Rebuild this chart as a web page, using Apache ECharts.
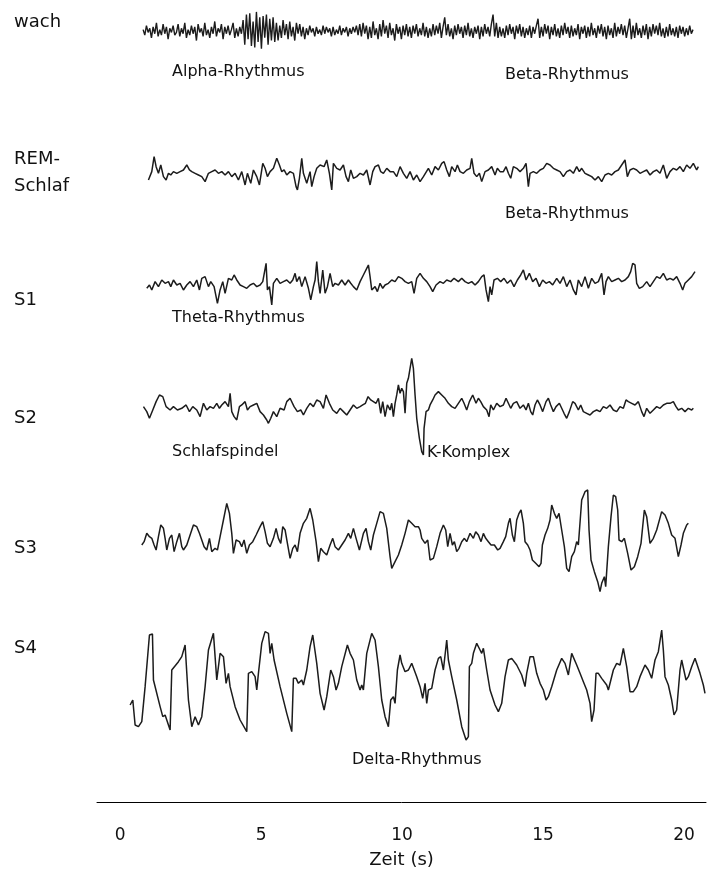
<!DOCTYPE html>
<html><head><meta charset="utf-8">
<script src="https://cdn.jsdelivr.net/npm/echarts@6/dist/echarts.min.js"></script>
<style>html,body{margin:0;padding:0;background:#fff}#c{width:716px;height:881px}</style>
</head><body><div id="c"></div>
<script>
// ---- data ----
const FS = 84.6;            // samples per second
const xTicks = [0, 5, 10, 15, 20];
const xTitle = 'Zeit (s)';
const stageNames = ['wach', 'REM-\nSchlaf', 'S1', 'S2', 'S3', 'S4'];
const notes = ['Alpha-Rhythmus', 'Beta-Rhythmus', 'Beta-Rhythmus', 'Theta-Rhythmus', 'Schlafspindel', 'K-Komplex', 'Delta-Rhythmus'];

// wach: uniformly sampled amplitudes (µV)
const wachStart = 69, wachStep = 5.0;
const wach = [3,-9,12,-3,6,-15,9,-6,18,-12,3,-9,15,-6,9,-18,6,-3,12,-9,
-3,15,-12,6,-6,18,-15,3,-9,12,-6,9,-21,15,-3,6,-12,18,-9,3,
-15,9,-6,21,-12,6,-3,15,-18,9,-6,12,-9,3,18,-15,6,-12,9,-6,
24,-30,36,-18,39,-33,21,-36,42,-24,30,-39,33,-15,36,-30,27,-21,30,-24,
18,-21,12,-15,24,-9,15,-18,21,-12,9,-21,18,-6,15,-12,9,-18,
6,-9,12,-3,6,-12,9,-6,3,-9,12,-6,9,-3,6,-12,9,-9,3,-6,12,-9,6,-3,9,-12,6,-6,9,-3,12,-9,
15,-12,18,-6,12,-18,9,-15,21,-9,6,-18,15,-12,24,-6,12,-15,18,-9,6,-21,15,-6,9,-18,12,-9,15,-12,
9,-15,12,-6,15,-12,6,-9,18,-12,9,-15,6,-12,15,-9,12,-6,18,-15,9,
30,-9,15,-12,6,-18,12,-9,15,-6,9,-15,12,-9,18,-12,6,-15,9,-6,12,-18,9,-12,15,-6,9,-12,15,
36,-12,18,-15,9,-12,6,-15,12,-9,15,-6,9,-18,12,-6,15,-12,9,-15,6,-9,12,-15,9,-6,12,
27,-15,9,-12,15,-6,12,-18,9,-9,15,-12,6,-15,12,-9,18,-6,9,-15,12,-12,6,-9,15,-18,9,-6,12,-15,9,-12,18,-9,6,-15,12,-6,15,-12,9,-18,12,-9,6,-15,18,-12,9,-6,15,-9,12,-15,6,
27,-18,12,-15,18,-9,6,-15,12,-9,15,-18,9,-12,15,-6,12,-9,18,-12,6,-15,9,-12,15,-9,6,-12,9,-15,12,-6,9,-12,6,-9,12,-6,3];

// [sample, amplitude µV]
const rem = [[85,-20],[95,5],[102,50],[108,20],[115,0],[122,25],[130,-10],[138,-20],[145,0],[152,-5],[160,5],[170,0],[180,5],[190,10],[200,25],[208,10],[215,5],[225,0],[235,-5],[245,-10],[255,-25],[265,0],[275,5],[285,10],[295,0],[305,5],[315,-5],[325,5],[335,-10],[345,0],[355,-20],[365,5],[375,-35],[382,0],[392,-30],[400,10],[410,-10],[418,-35],[428,30],[435,15],[442,-10],[450,5],[460,15],[470,45],[478,25],[485,5],[492,10],[500,-5],[510,5],[520,0],[528,-40],[532,-50],[538,-15],[545,45],[550,0],[560,-30],[570,5],[575,-40],[582,-10],[590,15],[600,25],[605,30],[612,20],[620,40],[628,0],[635,-50],[640,30],[650,15],[660,10],[670,25],[678,-10],[685,-25],[692,10],[700,-15],[710,-10],[720,0],[730,-5],[740,10],[750,-35],[758,5],[765,20],[775,25],[782,5],[790,0],[800,15],[810,5],[820,5],[830,-10],[840,20],[850,0],[860,-15],[870,5],[880,-20],[890,-5],[900,-25],[910,-10],
[915,-10],[925,15],[935,-5],[945,20],[955,10],[965,30],[972,35],[980,10],[988,-10],[995,20],[1005,5],[1012,25],[1020,5],[1030,0],[1040,10],[1050,15],[1055,45],[1062,0],[1070,-10],[1078,0],[1085,-25],[1095,5],[1105,10],[1115,20],[1125,-5],[1132,15],[1140,5],[1150,5],[1158,20],[1165,0],[1172,-15],[1180,20],[1190,15],[1200,5],[1210,15],[1218,30],[1225,-40],[1230,0],[1240,5],[1250,0],[1260,10],[1270,15],[1280,30],[1290,25],[1300,15],[1310,10],[1320,5],[1330,-10],[1340,5],[1350,10],[1360,0],[1370,20],[1378,5],[1385,15],[1395,0],[1405,-5],[1415,-10],[1425,-20],[1435,-10],[1445,-25],[1455,-5],[1465,0],[1475,-5],[1485,5],[1495,10],[1505,25],[1515,40],[1522,-10],[1530,10],[1540,15],[1550,10],[1560,0],[1570,5],[1580,10],[1590,-5],[1600,5],[1610,10],[1620,0],[1630,25],[1640,-15],[1650,5],[1660,15],[1670,10],[1680,20],[1690,5],[1700,25],[1710,15],[1720,30],[1730,10],[1735,20]];

const s1 = [[80,-15],[88,-5],[95,-20],[105,5],[115,-10],[125,10],[135,0],[145,5],[152,-10],[160,10],[170,-5],[180,0],[190,-20],[200,-5],[210,5],[220,-10],[230,10],[238,-20],[245,15],[255,20],[265,-10],[272,5],[282,-10],[292,-60],[300,-20],[308,5],[315,-30],[325,15],[335,10],[342,25],[350,10],[360,-5],[370,-10],[380,-15],[390,-5],[400,0],[410,-10],[420,-5],[428,5],[432,10],[438,60],[442,-20],[448,-10],[455,-65],[460,0],[470,15],[480,0],[490,5],[500,10],[510,0],[518,10],[525,30],[530,5],[538,20],[545,-10],[555,20],[565,-15],[572,-50],[580,-10],[585,10],[590,65],[595,5],[600,-30],[608,40],[615,-30],[622,-10],[630,30],[638,-10],[645,0],[655,-5],[665,10],[675,-5],[685,10],[692,0],[700,-10],[710,-20],[720,5],[730,25],[740,45],[745,55],[750,20],[755,-20],[765,-10],[772,-25],[780,0],[788,-15],[795,-5],[805,0],[815,10],[825,5],[835,20],[845,15],[855,5],[865,0],[875,5],[882,-30],[890,15],[900,30],
[910,15],[920,5],[930,-10],[938,-25],[948,-5],[960,5],[970,0],[980,10],[992,5],[1002,15],[1015,5],[1025,15],[1035,5],[1045,0],[1055,5],[1065,-5],[1075,5],[1085,20],[1092,25],[1098,-20],[1105,-55],[1110,-10],[1115,-35],[1122,10],[1132,15],[1142,5],[1152,15],[1162,0],[1172,10],[1182,-10],[1192,10],[1202,25],[1210,40],[1218,10],[1228,30],[1238,5],[1248,15],[1258,-10],[1268,10],[1278,0],[1288,5],[1298,-5],[1310,15],[1320,0],[1330,20],[1340,-10],[1350,10],[1360,-20],[1368,-35],[1375,10],[1385,-10],[1395,20],[1405,-15],[1415,15],[1425,0],[1435,5],[1445,30],[1452,-35],[1458,5],[1465,20],[1475,5],[1485,10],[1495,15],[1505,5],[1515,10],[1525,20],[1532,35],[1538,60],[1545,55],[1550,0],[1558,-15],[1568,-10],[1580,5],[1590,-10],[1600,5],[1610,20],[1620,15],[1630,30],[1640,10],[1650,15],[1660,10],[1670,20],[1680,0],[1688,-20],[1695,0],[1705,10],[1715,20],[1725,35]];

const s2 = [[70,5],[80,-10],[88,-30],[98,-5],[108,20],[118,40],[128,35],[138,5],[150,-5],[160,5],[172,-5],[185,0],[198,10],[208,-10],[218,5],[230,-5],[240,-25],[250,15],[260,-5],[270,5],[280,0],[290,15],[298,0],[305,10],[315,20],[325,5],[330,45],[335,-10],[342,-25],[350,-35],[358,5],[365,10],[375,20],[382,-5],[390,5],[400,10],[410,15],[420,-10],[430,-20],[440,-35],[445,-45],[452,-30],[460,-10],[470,-25],[480,0],[492,-5],[500,20],[510,30],[522,5],[532,-10],[542,-5],[550,-20],[560,0],[570,15],[580,5],[590,25],[600,20],[610,0],[618,40],[628,15],[638,-5],[650,-15],[660,0],[670,-10],[680,-20],[690,-5],[700,10],[710,0],[720,5],[728,10],[736,15],[744,35],[752,25],[760,20],[768,15],[775,30],[782,-15],[788,20],[795,-25],[802,10],[810,-5],[815,15],[820,-25],[825,15],[830,40],[835,70],[840,45],[845,60],[850,50],[855,-15],[860,75],[865,90],[870,120],[875,150],[880,120],[885,40],[890,-30],[898,-90],[905,-130],[910,-140],
[912,-60],[918,-10],[925,-5],[930,10],[938,25],[945,40],[955,50],[965,40],[975,30],[985,15],[995,5],[1005,0],[1015,15],[1025,30],[1032,15],[1040,-5],[1048,20],[1058,40],[1068,15],[1075,30],[1082,20],[1090,5],[1100,-5],[1107,-25],[1112,10],[1120,-5],[1130,15],[1140,5],[1150,10],[1158,30],[1165,15],[1172,0],[1180,15],[1190,20],[1200,0],[1210,10],[1218,-5],[1225,15],[1232,-10],[1238,-20],[1245,10],[1252,25],[1260,10],[1268,-10],[1278,20],[1285,30],[1292,10],[1300,-10],[1308,5],[1318,15],[1325,0],[1332,-15],[1340,-30],[1348,-10],[1358,20],[1365,15],[1375,-5],[1382,10],[1390,-10],[1400,-15],[1410,-20],[1420,-10],[1430,-5],[1440,-10],[1450,5],[1460,0],[1470,10],[1480,-5],[1490,-10],[1500,5],[1510,0],[1518,25],[1525,20],[1535,15],[1545,10],[1555,20],[1565,-10],[1572,-25],[1580,0],[1590,-15],[1600,-5],[1610,5],[1620,0],[1630,10],[1640,15],[1650,15],[1660,20],[1668,5],[1675,-5],[1685,0],[1695,-10],[1705,0],[1715,-5],[1720,0]];

const s3 = [[65,-15],[72,-5],[80,20],[88,10],[95,5],[102,-15],[108,-30],[115,10],[122,45],[130,35],[135,5],[140,-30],[148,5],[155,15],[162,-35],[170,-5],[178,20],[185,-20],[190,-30],[200,-15],[210,15],[220,45],[230,40],[238,20],[245,0],[252,-20],[260,-30],[268,5],[275,-35],[285,-25],[292,-30],[300,10],[310,60],[320,110],[328,80],[335,20],[340,-40],[348,0],[358,-5],[365,-20],[372,0],[380,-40],[388,-15],[398,-5],[408,15],[420,40],[428,55],[435,25],[442,-10],[450,-20],[460,5],[468,35],[475,5],[482,-10],[488,40],[495,30],[502,-10],[510,-55],[518,-25],[525,-15],[532,-35],[540,20],[550,50],[560,65],[570,95],[578,60],[588,-5],[595,-65],[602,-25],[610,-35],[620,-45],[630,-15],[638,5],[645,-20],[655,-30],[665,-15],[675,0],[685,20],[692,5],[700,35],[708,5],[718,-30],[730,20],[738,35],[745,-5],[752,-30],[760,15],[770,50],[780,85],[790,80],[800,35],[810,-50],[815,-85],[825,-65],[835,-45],[845,-15],[855,20],[865,60],[875,50],[885,40],[895,40],[900,30],
[905,5],[915,-10],[923,0],[930,-60],[940,-55],[950,-20],[960,20],[970,45],[977,30],[983,-20],[990,20],[997,-15],[1003,-5],[1010,-35],[1017,-25],[1025,-5],[1033,5],[1040,-5],[1050,20],[1060,5],[1067,25],[1075,15],[1083,-5],[1090,20],[1097,5],[1105,-5],[1113,-15],[1123,-15],[1133,-30],[1140,-25],[1150,-5],[1157,10],[1165,50],[1170,65],[1177,15],[1183,-5],[1190,60],[1197,80],[1203,90],[1210,50],[1215,-5],[1223,-15],[1230,-30],[1237,-60],[1247,-70],[1257,-80],[1263,-70],[1267,-15],[1275,15],[1283,35],[1290,60],[1295,105],[1303,80],[1310,65],[1317,80],[1325,30],[1333,-20],[1340,-85],[1347,-95],[1355,-50],[1363,-35],[1370,-5],[1375,-15],[1385,120],[1395,145],[1403,150],[1407,30],[1413,-60],[1423,-95],[1433,-125],[1440,-155],[1445,-130],[1453,-110],[1457,-140],[1465,-20],[1473,70],[1480,135],[1487,130],[1493,90],[1497,0],[1505,-5],[1513,5],[1523,-40],[1533,-90],[1543,-80],[1553,-50],[1563,-10],[1573,90],[1580,70],[1590,-10],[1600,5],[1610,30],[1625,85],[1635,75],[1645,50],[1655,15],[1665,5],[1675,-50],[1683,-15],[1690,20],[1700,45],[1705,50]];

const s4 = [[30,-45],[38,-30],[45,-105],[55,-110],[65,-95],[75,10],[88,165],[97,168],[100,30],[120,-50],[128,-80],[135,-75],[150,-120],[155,60],[160,65],[175,85],[185,100],[195,135],[205,-30],[215,-110],[225,-80],[235,-105],[245,-80],[255,10],[265,120],[280,170],[290,30],[300,110],[310,100],[318,20],[325,50],[330,10],[345,-50],[360,-90],[380,-125],[385,50],[395,55],[405,40],[410,0],[415,50],[425,140],[435,175],[445,170],[450,110],[455,140],[462,90],[480,10],[500,-70],[515,-125],[520,35],[528,35],[535,20],[545,30],[550,15],[560,60],[570,130],[578,165],[590,80],[600,-10],[612,-60],[620,-20],[632,60],[640,40],[648,0],[655,20],[665,70],[682,135],[690,110],[700,90],[710,30],[720,0],[725,15],[730,0],[740,110],[755,170],[765,150],[775,70],[785,-30],[795,-80],[805,-110],[812,-30],[820,-20],[825,-40],[832,60],[840,105],[845,80],[855,55],[865,60],[875,80],
[880,85],[890,40],[900,10],[908,-25],[915,20],[920,-40],[925,0],[935,5],[945,60],[955,95],[962,100],[970,60],[980,150],[985,90],[995,40],[1010,-30],[1025,-110],[1038,-150],[1045,-140],[1048,70],[1055,80],[1060,110],[1070,140],[1080,120],[1085,110],[1090,125],[1100,60],[1110,0],[1125,-45],[1135,-65],[1145,-40],[1155,40],[1165,90],[1175,95],[1190,75],[1205,45],[1215,10],[1220,50],[1230,100],[1240,100],[1250,50],[1260,20],[1270,0],[1278,-30],[1285,-20],[1295,10],[1310,60],[1325,95],[1335,80],[1345,45],[1355,110],[1360,105],[1370,75],[1380,50],[1390,25],[1400,0],[1410,-40],[1415,-95],[1422,-60],[1428,50],[1435,50],[1445,35],[1460,15],[1465,0],[1480,60],[1490,80],[1500,75],[1510,125],[1520,70],[1530,-5],[1540,-5],[1550,10],[1560,40],[1575,75],[1585,60],[1595,35],[1605,90],[1615,115],[1625,180],[1630,120],[1635,40],[1645,15],[1655,-30],[1662,-75],[1670,-60],[1680,60],[1685,90],[1690,85],[1698,30],[1705,40],[1715,70],[1725,95],[1730,80],[1740,50],[1750,15],[1755,-10]];

// ---- chart ----
const wachPairs = wach.map((v, i) => [wachStart + i * wachStep, v]);
const FONT = '"DejaVu Sans", sans-serif';
const XMIN = -0.82, XMAX = 20.78;
const traces = [
  { data: wachPairs, top: 1,     height: 60,  amp: 66,  w: 1.4 },
  { data: rem,       top: 73.3,  height: 200, amp: 300, w: 1.5 },
  { data: s1,        top: 183.3, height: 200, amp: 300, w: 1.5 },
  { data: s2,        top: 308.3, height: 200, amp: 300, w: 1.5 },
  { data: s3,        top: 440,   height: 200, amp: 300, w: 1.5 },
  { data: s4,        top: 590,   height: 200, amp: 300, w: 1.5 }
];
const grid = [], xAxis = [], yAxis = [], series = [];
traces.forEach((tr, i) => {
  grid.push({ left: 97, right: 10, top: tr.top, height: tr.height });
  xAxis.push({ type: 'value', gridIndex: i, min: XMIN, max: XMAX, show: false });
  yAxis.push({ type: 'value', gridIndex: i, min: -tr.amp, max: tr.amp, show: false });
  series.push({
    type: 'line', xAxisIndex: i, yAxisIndex: i,
    data: tr.data.map(p => [p[0] / FS, p[1]]),
    symbol: 'none', showSymbol: false, clip: false, silent: true,
    lineStyle: { color: '#1c1c1c', width: tr.w }
  });
});
grid.push({ left: 97, right: 10, top: 790, bottom: 79 });
xAxis.push({
  type: 'value', gridIndex: 6, min: XMIN, max: XMAX,
  axisLine: { show: true, onZero: false, lineStyle: { color: '#000', width: 1 } },
  axisTick: { show: false }, splitLine: { show: false },
  axisLabel: { customValues: xTicks, fontSize: 17, color: '#111', margin: 25, fontFamily: FONT },
  name: xTitle, nameLocation: 'middle', nameGap: 49,
  nameTextStyle: { fontSize: 18, color: '#111', fontFamily: FONT }
});
yAxis.push({ type: 'value', gridIndex: 6, show: false });

function txt(s, x, y, size, lh) {
  return { type: 'text', x: x, y: y, silent: true,
    style: { text: s, fill: '#111', fontSize: size, fontFamily: FONT, align: 'left', verticalAlign: 'middle', lineHeight: lh || 23 } };
}
const graphic = [
  txt(stageNames[0], 14, 22, 18),
  txt(stageNames[1], 14, 173, 18, 27),
  txt(stageNames[2], 14, 300, 18),
  txt(stageNames[3], 14, 418, 18),
  txt(stageNames[4], 14, 548, 18),
  txt(stageNames[5], 14, 648, 18),
  txt(notes[0], 172, 72, 16),
  txt(notes[1], 505, 75, 16),
  txt(notes[2], 505, 214, 16),
  txt(notes[3], 172, 318, 16),
  txt(notes[4], 172, 452, 16),
  txt(notes[5], 427, 453, 16),
  txt(notes[6], 352, 760, 16)
];

const chart = echarts.init(document.getElementById('c'));
chart.setOption({ animation: false, backgroundColor: '#fff', grid, xAxis, yAxis, series, graphic });
</script></body></html>
